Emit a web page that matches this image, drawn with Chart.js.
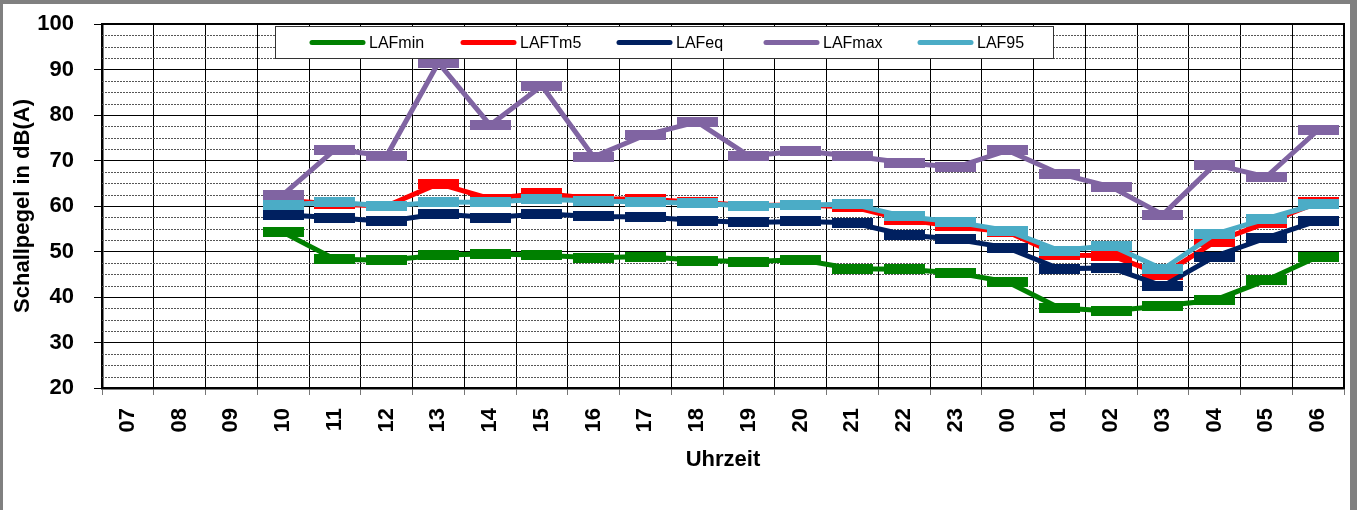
<!DOCTYPE html>
<html>
<head>
<meta charset="utf-8">
<script src="https://cdn.jsdelivr.net/npm/chart.js@4.4.0/dist/chart.umd.min.js"></script>
<style>
  html, body { margin: 0; padding: 0; background: #fff; }
  canvas { display: block; }
</style>
</head>
<body>
<canvas id="chart" width="1357" height="510"></canvas>
<script>
// Uhrzeit (Stunden) und Pegel in dB(A)
const hours = ['07', '08', '09', '10', '11', '12', '13', '14', '15', '16', '17', '18',
               '19', '20', '21', '22', '23', '00', '01', '02', '03', '04', '05', '06'];

const lafMin  = [null, null, null, 54.2, 48.3, 48.1, 49.2, 49.5, 49.2, 48.6, 48.9, 48.0,
                 47.8, 48.2, 46.2, 46.1, 45.3, 43.3, 37.6, 36.9, 38.1, 39.3, 43.7, 48.9];
const lafTm5  = [null, null, null, 61.3, 60.4, 60.0, 64.9, 61.6, 62.8, 61.6, 61.5, 60.8,
                 60.1, 60.2, 59.8, 57.0, 55.5, 54.3, 49.2, 49.1, 44.9, 52.1, 56.3, 60.8];
const lafEq   = [null, null, null, 58.1, 57.4, 56.6, 58.3, 57.4, 58.3, 57.7, 57.6, 56.8,
                 56.4, 56.6, 56.3, 53.7, 52.7, 50.8, 46.2, 46.4, 42.4, 48.9, 53.0, 56.8];
const lafMax  = [null, null, null, 62.5, 72.4, 71.0, 91.5, 77.8, 86.4, 70.8, 75.6, 78.5,
                 71.0, 72.1, 71.0, 69.5, 68.5, 72.2, 67.1, 64.2, 58.1, 69.1, 66.4, 76.7];
const laf95   = [null, null, null, 60.3, 60.8, 60.0, 60.8, 60.9, 61.5, 61.1, 60.9, 60.6,
                 60.0, 60.2, 60.4, 57.7, 56.5, 54.6, 50.2, 51.3, 46.1, 53.8, 57.2, 60.5];

const seriesNames  = ['LAFmin', 'LAFTm5', 'LAFeq', 'LAFmax', 'LAF95'];
const seriesColors = ['#008000', '#FF0000', '#002060', '#8064A2', '#4BACC6'];
const seriesData   = [lafMin, lafTm5, lafEq, lafMax, laf95];

const yMin = 20, yMax = 100, yStep = 10, yMinorStep = 2.5;

Chart.defaults.font.family = '"Liberation Sans", Arial, sans-serif';
Chart.defaults.color = '#000';

// Excel-Strichmarker als kleines Bild
function dashMarker(color) {
  const c = document.createElement('canvas');
  c.width = 41;
  c.height = 10;
  const g = c.getContext('2d');
  g.fillStyle = color;
  g.fillRect(0, 0, c.width, c.height);
  return c;
}

// Rahmen, Nebengitter, Legende
const excelLook = {
  id: 'excelLook',
  beforeDraw(chart) {
    const ctx = chart.ctx;
    ctx.save();
    ctx.fillStyle = '#fff';
    ctx.fillRect(0, 0, chart.width, chart.height);
    ctx.fillStyle = '#808080';
    ctx.fillRect(0, 0, chart.width, 4);
    ctx.fillRect(0, 0, 3, chart.height);
    ctx.fillRect(1350, 0, 7, chart.height);
    ctx.restore();
  },
  beforeDatasetsDraw(chart) {
    const ctx = chart.ctx;
    const area = chart.chartArea;
    const y = chart.scales.y;
    ctx.save();
    ctx.strokeStyle = '#555';
    ctx.lineWidth = 1;
    ctx.setLineDash([2, 1]);
    for (let v = yMin + yMinorStep; v < yMax; v += yMinorStep) {
      if (v % yStep === 0) continue;
      const py = Math.round(y.getPixelForValue(v)) + 0.5;
      ctx.beginPath();
      ctx.moveTo(area.left, py);
      ctx.lineTo(area.right, py);
      ctx.stroke();
    }
    ctx.setLineDash([]);
    ctx.strokeStyle = '#000';
    ctx.lineWidth = 2;
    ctx.beginPath();
    ctx.moveTo(area.left, area.top);
    ctx.lineTo(area.right, area.top);
    ctx.lineTo(area.right, area.bottom);
    ctx.stroke();
    ctx.restore();
  },
  afterDraw(chart) {
    const ctx = chart.ctx;
    const swatchX = [310, 461, 617, 764, 918];
    const cy = 42.5;
    ctx.save();
    ctx.fillStyle = '#fff';
    ctx.fillRect(275.5, 26.5, 778, 32);
    ctx.strokeStyle = '#333';
    ctx.lineWidth = 1;
    ctx.strokeRect(275.5, 26.5, 778, 32);
    ctx.font = '16px "Liberation Sans", Arial, sans-serif';
    ctx.textBaseline = 'middle';
    ctx.textAlign = 'left';
    seriesNames.forEach((name, i) => {
      ctx.strokeStyle = seriesColors[i];
      ctx.lineWidth = 5;
      ctx.lineCap = 'round';
      ctx.beginPath();
      ctx.moveTo(swatchX[i] + 2, cy);
      ctx.lineTo(swatchX[i] + 53, cy);
      ctx.stroke();
      ctx.fillStyle = '#000';
      ctx.fillText(name, swatchX[i] + 59, cy + 1);
    });
    ctx.restore();
  }
};

const datasets = seriesNames.map((name, i) => ({
  label: name,
  data: seriesData[i],
  borderColor: seriesColors[i],
  backgroundColor: seriesColors[i],
  borderWidth: 5,
  tension: 0,
  fill: false,
  pointStyle: dashMarker(seriesColors[i]),
  pointRadius: 1,
  pointHoverRadius: 1,
  pointBorderWidth: 0,
  order: seriesNames.length - i
}));

new Chart(document.getElementById('chart'), {
  type: 'line',
  data: { labels: hours, datasets: datasets },
  plugins: [excelLook],
  options: {
    responsive: false,
    animation: false,
    devicePixelRatio: 1,
    events: [],
    layout: { padding: { left: 0, top: 24, right: 13, bottom: 0 } },
    plugins: {
      legend: { display: false },
      tooltip: { enabled: false }
    },
    scales: {
      x: {
        type: 'category',
        offset: true,
        afterFit: (scale) => {
          scale.height = 122;
          scale.paddingLeft = 0;
          scale.paddingRight = 0;
        },
        grid: {
          offset: true,
          color: '#000',
          lineWidth: 1,
          tickLength: 7,
          tickColor: '#777'
        },
        border: { color: '#000', width: 2.5 },
        ticks: {
          autoSkip: false,
          minRotation: 90,
          maxRotation: 90,
          padding: 13,
          font: { size: 22, weight: 'bold' }
        },
        title: {
          display: true,
          text: 'Uhrzeit',
          font: { size: 22, weight: 'bold' },
          padding: { top: 0, bottom: 37 }
        }
      },
      y: {
        min: yMin,
        max: yMax,
        afterFit: (scale) => {
          scale.width = 102;
          scale.paddingTop = 0;
          scale.paddingBottom = 0;
        },
        ticks: {
          stepSize: yStep,
          padding: 20,
          font: { size: 22, weight: 'bold' }
        },
        grid: {
          color: '#000',
          lineWidth: 1,
          tickLength: 8,
          tickColor: '#000'
        },
        border: { color: '#000', width: 2.5 },
        title: {
          display: true,
          text: 'Schallpegel in dB(A)',
          font: { size: 22, weight: 'bold' },
          padding: { top: 10, bottom: 0 }
        }
      }
    }
  }
});
</script>
</body>
</html>
